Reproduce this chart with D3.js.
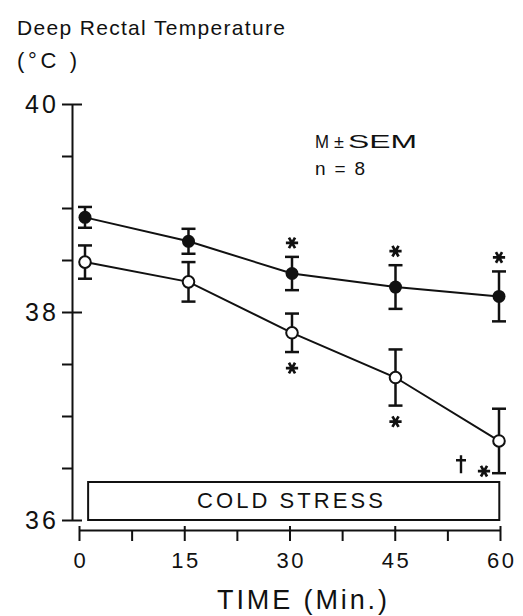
<!DOCTYPE html>
<html lang="en">
<head>
  <meta charset="UTF-8">
  <title>Deep Rectal Temperature</title>
  <style>
    body {
      margin: 0;
      padding: 0;
      background-color: #ffffff;
    }
    svg {
      display: block;
      font-family: "Liberation Sans", Arial, sans-serif;
    }
    .axis path, .axis line {
      stroke: #111;
      stroke-width: 2px;
    }
    .axis text {
      fill: #111;
    }
    .link {
      fill: none;
      stroke: #111;
      stroke-width: 2px;
    }
    .err {
      stroke: #111;
      stroke-width: 2.5px;
    }
  </style>
</head>
<body>
  <div id="chart"></div>

  <script src="https://d3js.org/d3.v7.min.js"></script>
  <script>
    // data
    const times = [0, 15, 30, 45, 60];
    const filledMean = [38.91, 38.68, 38.37, 38.24, 38.15];
    const filledSem = [0.10, 0.12, 0.16, 0.21, 0.24];
    const openMean = [38.48, 38.29, 37.80, 37.37, 36.76];
    const openSem = [0.16, 0.19, 0.185, 0.27, 0.31];
    const filledSig = ["", "", "*", "*", "*"];
    const openSig = ["", "", "*", "*", "†*"];
    const yTicks = [36, 36.5, 37, 37.5, 38, 38.5, 39, 39.5, 40];
    const yLabels = [36, 38, 40];
    const xTicks = [0, 7.5, 15, 22.5, 30, 37.5, 45, 52.5, 60];
    const xLabels = [0, 15, 30, 45, 60];
    const coldStress = [1.3, 59.9];

    const width = 523, height = 616;
    const ink = '#111';

    const svg = d3.select('#chart').append('svg')
      .attr('width', width)
      .attr('height', height);

    svg.append('rect').attr('width', width).attr('height', height).attr('fill', '#fff');

    const y = d3.scaleLinear().domain([36, 40]).range([520, 104]);
    const x = d3.scaleLinear().domain([0, 60]).range([79, 500]);
    // points sit a little right of the axis origin, as in the original drawing
    const xPt = d3.scaleLinear().domain([0, 60]).range([85, 499]);

    // Y axis
    const yAxis = svg.append('g')
      .attr('class', 'axis')
      .attr('transform', 'translate(72,0)')
      .call(d3.axisLeft(y)
        .tickValues(yTicks)
        .tickSize(10)
        .tickSizeOuter(0)
        .tickPadding(6)
        .tickFormat(d => yLabels.includes(d) ? d : ''));

    yAxis.selectAll('.tick line')
      .attr('x1', d => yLabels.includes(d) ? 10 : 0);
    yAxis.selectAll('.tick text')
      .style('font-size', '25px')
      .attr('textLength', d => yLabels.includes(d) ? 31 : null);

    // X axis (separate from the y axis)
    const xAxis = svg.append('g')
      .attr('class', 'axis')
      .attr('transform', 'translate(0,530)')
      .call(d3.axisBottom(x)
        .tickValues(xTicks)
        .tickSize(11)
        .tickSizeOuter(0)
        .tickPadding(11)
        .tickFormat(d => xLabels.includes(d) ? d : ''));

    xAxis.selectAll('.tick line')
      .attr('y1', d => xLabels.includes(d) ? -4 : 0);
    xAxis.selectAll('.tick text')
      .style('font-size', '22px')
      .attr('textLength', d => (xLabels.includes(d) && d > 0) ? 27 : null);

    // cold stress bar
    svg.append('rect')
      .attr('x', x(coldStress[0]))
      .attr('y', y(36) - 38)
      .attr('width', x(coldStress[1]) - x(coldStress[0]))
      .attr('height', 38)
      .attr('fill', '#fff')
      .attr('stroke', ink)
      .attr('stroke-width', 2);

    svg.append('text')
      .attr('x', 290)
      .attr('y', 508)
      .attr('text-anchor', 'middle')
      .attr('textLength', 186)
      .style('font-size', '22px')
      .attr('fill', ink)
      .text('COLD STRESS');

    const filled = times.map((t, i) => ({ t: t, m: filledMean[i], s: filledSem[i], sig: filledSig[i] }));
    const open = times.map((t, i) => ({ t: t, m: openMean[i], s: openSem[i], sig: openSig[i] }));

    // error bars
    [filled, open].forEach(series => {
      const g = svg.append('g');
      g.selectAll('.err-v')
        .data(series)
        .enter().append('line')
        .attr('class', 'err')
        .attr('x1', d => xPt(d.t)).attr('x2', d => xPt(d.t))
        .attr('y1', d => y(d.m + d.s)).attr('y2', d => y(d.m - d.s));
      g.selectAll('.cap-top')
        .data(series)
        .enter().append('line')
        .attr('class', 'err')
        .attr('x1', d => xPt(d.t) - 7).attr('x2', d => xPt(d.t) + 7)
        .attr('y1', d => y(d.m + d.s)).attr('y2', d => y(d.m + d.s));
      g.selectAll('.cap-bot')
        .data(series)
        .enter().append('line')
        .attr('class', 'err')
        .attr('x1', d => xPt(d.t) - 7).attr('x2', d => xPt(d.t) + 7)
        .attr('y1', d => y(d.m - d.s)).attr('y2', d => y(d.m - d.s));
    });

    // lines
    const line = d3.line().x(d => xPt(d.t)).y(d => y(d.m));
    svg.append('path').datum(filled).attr('class', 'link').attr('d', line);
    svg.append('path').datum(open).attr('class', 'link').attr('d', line);

    // points
    svg.selectAll('.pt-filled')
      .data(filled)
      .enter().append('circle')
      .attr('cx', d => xPt(d.t))
      .attr('cy', d => y(d.m))
      .attr('r', 6.5)
      .attr('fill', ink);

    svg.selectAll('.pt-open')
      .data(open)
      .enter().append('circle')
      .attr('cx', d => xPt(d.t))
      .attr('cy', d => y(d.m))
      .attr('r', 5.8)
      .attr('fill', '#fff')
      .attr('stroke', ink)
      .attr('stroke-width', 2);

    // significance marks
    const star = d3.symbol().type(d3.symbolAsterisk).size(105);

    function drawStar(cx, cy) {
      svg.append('path')
        .attr('d', star())
        .attr('transform', `translate(${cx},${cy}) rotate(90)`)
        .attr('fill', 'none')
        .attr('stroke', ink)
        .attr('stroke-width', 2.7);
    }

    function drawDagger(cx, top) {
      svg.append('path')
        .attr('d', `M${cx},${top}V${top + 18}M${cx - 5},${top + 5}H${cx + 5}`)
        .attr('fill', 'none')
        .attr('stroke', ink)
        .attr('stroke-width', 2.4);
    }

    filled.forEach(d => {
      if (d.sig.includes('*')) drawStar(xPt(d.t), y(d.m + d.s) - 14);
    });

    open.forEach(d => {
      if (!d.sig) return;
      const bottom = y(d.m - d.s);
      if (d.sig.includes('†')) {
        drawStar(xPt(d.t) - 15, bottom - 2);
        drawDagger(xPt(d.t) - 38, bottom - 18);
      } else {
        drawStar(xPt(d.t), bottom + 16);
      }
    });

    // titles and notes
    svg.append('text')
      .attr('x', 17).attr('y', 35)
      .attr('textLength', 268)
      .style('font-size', '21px')
      .attr('fill', ink)
      .text('Deep Rectal Temperature');

    svg.append('text')
      .attr('x', 17).attr('y', 68)
      .attr('textLength', 60)
      .style('font-size', '22px')
      .attr('fill', ink)
      .text('(°C )');

    svg.append('text')
      .attr('x', 315).attr('y', 148)
      .attr('textLength', 14)
      .attr('lengthAdjust', 'spacingAndGlyphs')
      .style('font-size', '18px')
      .attr('fill', ink)
      .text('M');

    svg.append('text')
      .attr('x', 334).attr('y', 148)
      .style('font-size', '18px')
      .attr('fill', ink)
      .text('±');

    svg.append('text')
      .attr('x', 348).attr('y', 148)
      .attr('textLength', 69)
      .attr('lengthAdjust', 'spacingAndGlyphs')
      .style('font-size', '18px')
      .attr('fill', ink)
      .text('SEM');

    svg.append('text')
      .attr('x', 315).attr('y', 175)
      .attr('textLength', 50)
      .style('font-size', '19px')
      .attr('fill', ink)
      .text('n = 8');

    svg.append('text')
      .attr('x', 302).attr('y', 609)
      .attr('text-anchor', 'middle')
      .attr('textLength', 170)
      .style('font-size', '27px')
      .attr('fill', ink)
      .text('TIME (Min.)');
  </script>
</body>
</html>
